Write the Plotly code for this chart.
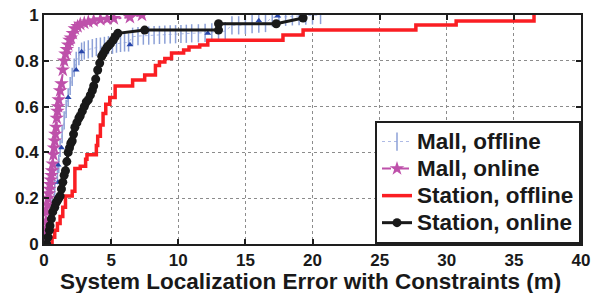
import plotly.graph_objects as go

# ---------------- data ----------------
mall_off_x = [0.0, 0.2, 0.4, 0.6, 0.8, 1.0, 1.1, 1.2, 1.35, 1.5, 1.65, 1.8, 1.95, 2.1, 2.25, 2.4,
              2.6, 2.8, 3.0, 3.3, 3.6, 3.9, 4.2, 4.5, 4.8, 5.1, 5.4, 5.7, 6.0, 6.3, 6.6, 7.0,
              7.4, 7.8, 8.2, 8.6, 9.0, 9.4, 9.8, 10.2, 10.6, 11.0, 11.5, 12.0, 12.5, 13.0, 13.5,
              14.0, 14.5, 15.0, 15.5, 16.0, 16.5, 17.0, 17.5, 18.0, 18.5, 19.0, 19.5, 20.0, 20.6]
mall_off_y = [0.0, 0.05, 0.1, 0.17, 0.24, 0.3, 0.35, 0.42, 0.48, 0.54, 0.59, 0.64, 0.69, 0.73, 0.77, 0.8,
              0.82, 0.84, 0.845, 0.85, 0.855, 0.86, 0.862, 0.865, 0.868, 0.87, 0.875, 0.878, 0.88, 0.88, 0.905, 0.908,
              0.91, 0.91, 0.912, 0.913, 0.914, 0.915, 0.916, 0.917, 0.918, 0.92, 0.92, 0.922, 0.924, 0.926, 0.93,
              0.955, 0.955, 0.957, 0.96, 0.962, 0.965, 0.99, 0.99, 0.992, 0.994, 0.995, 0.997, 0.998, 1.0]
mall_off_tri_x = [1.05, 1.05, 1.3, 1.8, 2.4, 2.8, 6.4, 12.2, 16.0, 17.4]
mall_off_tri_y = [0.27, 0.345, 0.42, 0.64, 0.76, 0.84, 0.87, 0.92, 0.975, 0.996]

mall_on_x = [0.0, 0.05, 0.1, 0.15, 0.2, 0.25, 0.3, 0.35, 0.4, 0.45, 0.5, 0.55, 0.6, 0.65, 0.7,
             0.75, 0.8, 0.85, 0.9, 0.95, 1.0, 1.05, 1.1, 1.2, 1.3, 1.4, 1.5, 1.6, 1.7, 1.8,
             1.9, 2.0, 2.15, 2.3, 2.5, 2.7, 3.0, 3.3, 3.7, 4.2, 4.7, 5.2, 6.4, 7.3]
mall_on_y = [0.0, 0.03, 0.06, 0.1, 0.14, 0.17, 0.2, 0.22, 0.24, 0.26, 0.28, 0.3, 0.32, 0.35, 0.39,
             0.42, 0.45, 0.48, 0.51, 0.55, 0.58, 0.6, 0.63, 0.67, 0.7, 0.76, 0.8, 0.83, 0.85, 0.87,
             0.89, 0.9, 0.92, 0.94, 0.95, 0.96, 0.965, 0.97, 0.975, 0.98, 0.982, 0.985, 0.99, 1.0]

sta_off_x = [0.45, 0.6, 0.8, 1.0, 1.2, 1.4, 1.6, 2.1, 2.3, 2.7, 3.1, 3.2, 3.9, 4.0, 4.2, 4.4, 4.6,
             4.9, 5.3, 6.6, 7.5, 8.3, 8.6, 9.0, 9.5, 10.4, 10.8, 11.6, 12.2, 17.8, 19.3, 27.7, 30.7, 36.5]
sta_off_y = [0.0, 0.03, 0.06, 0.09, 0.12, 0.16, 0.21, 0.23, 0.33, 0.34, 0.37, 0.39, 0.43, 0.47, 0.52, 0.57, 0.61,
             0.64, 0.69, 0.716, 0.738, 0.78, 0.795, 0.81, 0.834, 0.847, 0.86, 0.869, 0.89, 0.913, 0.934, 0.956, 0.974, 1.0]

sta_on_x = [0.2, 0.3, 0.4, 0.45, 0.55, 0.65, 0.8, 0.9, 1.0, 1.1, 1.2, 1.3, 1.4, 1.5, 1.6, 1.7, 1.8,
            1.9, 2.0, 2.1, 2.2, 2.3, 2.45, 2.6, 2.7, 2.85, 3.0, 3.15, 3.3, 3.45, 3.6, 3.7, 3.85, 4.0,
            4.15, 4.3, 4.4, 4.55, 4.7, 4.8, 4.95, 5.15, 5.3, 5.5, 7.5, 13.0, 13.0, 17.3, 19.3]
sta_on_y = [0.0, 0.03, 0.06, 0.08, 0.11, 0.14, 0.16, 0.18, 0.19, 0.2, 0.21, 0.24, 0.27, 0.3, 0.32, 0.36, 0.4,
            0.42, 0.44, 0.45, 0.48, 0.51, 0.53, 0.55, 0.56, 0.58, 0.6, 0.62, 0.63, 0.65, 0.67, 0.69, 0.72, 0.76,
            0.79, 0.82, 0.83, 0.845, 0.86, 0.865, 0.875, 0.89, 0.905, 0.92, 0.934, 0.934, 0.962, 0.962, 0.987]

x_ticks = [0, 5, 10, 15, 20, 25, 30, 35, 40]
y_ticks = [0, 0.2, 0.4, 0.6, 0.8, 1]
y_tick_text = ["0", "0.2", "0.4", "0.6", "0.8", "1"]
series_names = ["Mall, offline", "Mall, online", "Station, offline", "Station, online"]
x_title = "System Localization Error with Constraints (m)"

# ---------------- figure ----------------
FONT = "Liberation Sans"


def leg(name):
    # larger glyphs than the legend's row spacing font, to match the compact boxed legend
    return '<span style="font-size:22.5px">' + name + '</span>'


fig = go.Figure()

fig.add_trace(go.Scatter(
    x=mall_off_x, y=mall_off_y, name=leg(series_names[0]), mode="lines+markers",
    line=dict(color="rgba(120,140,210,0.6)", width=1, dash="dot"),
    marker=dict(symbol="line-ns", size=13, line=dict(color="rgb(140,160,215)", width=1.5)),
))
fig.add_trace(go.Scatter(
    x=mall_off_tri_x, y=mall_off_tri_y, mode="markers", showlegend=False,
    marker=dict(symbol="triangle-up", size=6, color="rgb(40,70,170)"),
))
fig.add_trace(go.Scatter(
    x=mall_on_x, y=mall_on_y, name=leg(series_names[1]), mode="lines+markers",
    line=dict(color="rgb(190,80,170)", width=2, dash="dashdot"),
    marker=dict(symbol="star", size=11, color="rgb(190,80,170)"),
))
fig.add_trace(go.Scatter(
    x=sta_off_x, y=sta_off_y, name=leg(series_names[2]), mode="lines",
    line=dict(color="rgb(250,30,35)", width=3.5, shape="hv"),
))
fig.add_trace(go.Scatter(
    x=sta_on_x, y=sta_on_y, name=leg(series_names[3]), mode="lines+markers",
    line=dict(color="rgb(25,25,25)", width=3),
    marker=dict(symbol="circle", size=9, color="rgb(25,25,25)"),
))

axis_common = dict(
    showline=True, linecolor="rgb(30,30,30)", linewidth=2, mirror="ticks",
    ticks="inside", ticklen=5, tickwidth=1.5, tickcolor="rgb(30,30,30)",
    showgrid=True, gridcolor="rgb(140,140,140)", griddash="dot", gridwidth=1,
    zeroline=False, automargin=False, ticklabeloverflow="allow",
    tickfont=dict(family=FONT, size=17, color="rgb(25,25,25)", weight="bold"),
)

fig.update_xaxes(range=[0, 40], tickvals=x_ticks, **axis_common)
fig.update_yaxes(range=[0, 1], tickvals=y_ticks, ticktext=y_tick_text, **axis_common)

fig.add_annotation(
    text=x_title, xref="paper", yref="paper", x=0.497, y=-0.162,
    xanchor="center", yanchor="middle", showarrow=False,
    font=dict(family=FONT, size=22.5, color="rgb(25,25,25)", weight="bold"),
)

# the page body has an 8px default margin, so the figure is sized/margined to compensate
fig.update_layout(
    width=594, height=285,
    margin=dict(l=36, r=21, t=7, b=49),
    paper_bgcolor="white", plot_bgcolor="white",
    legend=dict(
        x=1, y=0, xanchor="right", yanchor="bottom",
        bgcolor="white", bordercolor="rgb(30,30,30)", borderwidth=2,
        font=dict(family=FONT, size=18.5, color="rgb(25,25,25)", weight="bold"),
        tracegroupgap=0,
    ),
)

fig.write_html("out.html")
